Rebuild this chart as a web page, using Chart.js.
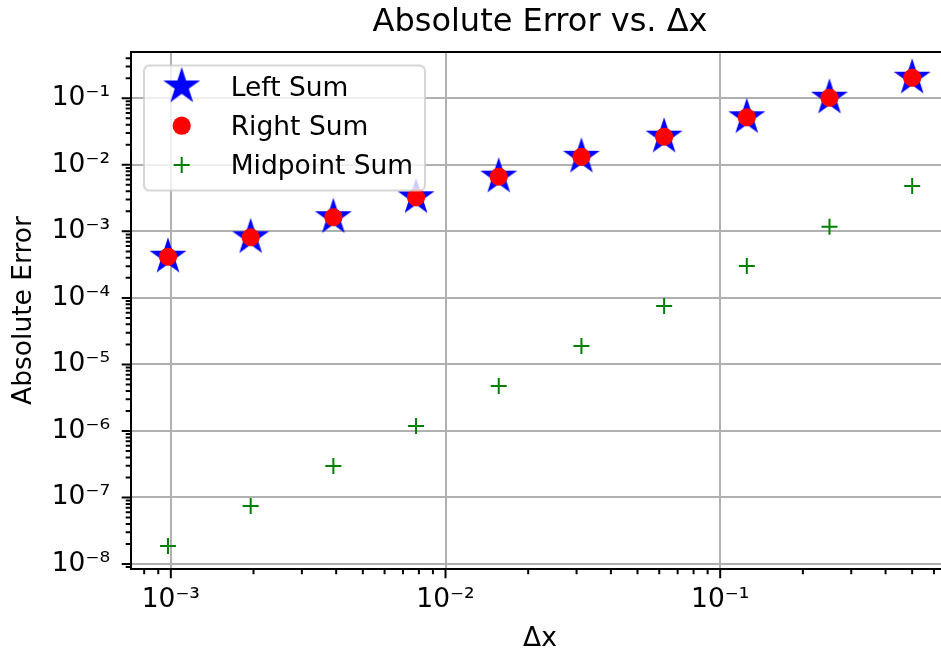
<!DOCTYPE html>
<html>
<head>
<meta charset="utf-8">
<style>
html, body { margin: 0; padding: 0; overflow: hidden; background: #ffffff; width: 941px; height: 653px; }
#wrap { width: 941px; height: 653px; overflow: hidden; position: relative; }
#c { position: absolute; left: 0; top: 0; }
</style>
<script src="https://cdn.jsdelivr.net/npm/chart.js@4.4.1/dist/chart.umd.min.js"></script>
</head>
<body>
<div id="wrap"><canvas id="c" width="950" height="653"></canvas></div>
<script>
// ---- data ----
const deltaX = [0.0009765625, 0.001953125, 0.00390625, 0.0078125, 0.015625, 0.03125, 0.0625, 0.125, 0.25, 0.5];
const leftSumError = [4.16e-4, 8.15e-4, 1.63e-3, 3.25e-3, 6.64e-3, 1.32e-2, 2.65e-2, 5.18e-2, 0.102, 0.204];
const rightSumError = [4.16e-4, 8.15e-4, 1.63e-3, 3.25e-3, 6.64e-3, 1.32e-2, 2.65e-2, 5.18e-2, 0.102, 0.204];
const midpointSumError = [1.87e-8, 7.46e-8, 2.98e-7, 1.19e-6, 4.74e-6, 1.89e-5, 7.55e-5, 3.01e-4, 1.175e-3, 4.81e-3];
const seriesLabels = ['Left Sum', 'Right Sum', 'Midpoint Sum'];
const xTickExponents = [-3, -2, -1];
const xTickLabels = ['10⁻³', '10⁻²', '10⁻¹'];
const yTickExponents = [-8, -7, -6, -5, -4, -3, -2, -1];
const yTickLabels = ['10⁻⁸', '10⁻⁷', '10⁻⁶', '10⁻⁵', '10⁻⁴', '10⁻³', '10⁻²', '10⁻¹'];
const titleText = 'Absolute Error vs. Δx';
const xAxisTitle = 'Δx';
const yAxisTitle = 'Absolute Error';

// ---- styling ----
const FONT = 'DejaVu Sans';
const X_MIN = Math.pow(10, -3.145), X_MAX = Math.pow(10, -0.167);
const Y_MIN = Math.pow(10, -8.075), Y_MAX = Math.pow(10, -0.304);

function makeStar(R, color) {
  const pad = 6;
  const size = Math.ceil(2 * (R + pad) / 2) * 2;
  const c = document.createElement('canvas');
  c.width = size; c.height = size;
  const g = c.getContext('2d');
  const cx = size / 2, cy = size / 2;
  g.beginPath();
  for (let i = 0; i < 10; i++) {
    const r = i % 2 === 0 ? R : R * 0.381966;
    const a = -Math.PI / 2 + i * Math.PI / 5;
    const px = cx + r * Math.cos(a), py = cy + r * Math.sin(a);
    if (i === 0) g.moveTo(px, py); else g.lineTo(px, py);
  }
  g.closePath();
  g.fillStyle = color; g.fill();
  g.lineWidth = 1.5; g.strokeStyle = color; g.lineJoin = 'miter'; g.stroke();
  return c;
}
const starImg = makeStar(17, '#0000ff');

function logTicks(min, max) {
  const out = [];
  for (let e = Math.floor(Math.log10(min)); e <= Math.ceil(Math.log10(max)); e++) {
    for (let k = 1; k <= 9; k++) {
      const v = k * Math.pow(10, e);
      if (v >= min * (1 - 1e-9) && v <= max * (1 + 1e-9)) out.push({ value: v, major: k === 1 });
    }
  }
  return out;
}
function labelFor(exps, labels) {
  return function (value) {
    const l = Math.log10(value);
    const e = Math.round(l);
    if (Math.abs(l - e) < 1e-6) {
      const i = exps.indexOf(e);
      return i >= 0 ? labels[i] : '';
    }
    return '';
  };
}
const gridColor = ctx => (ctx.tick && ctx.tick.major) ? '#b0b0b0' : 'rgba(0,0,0,0)';
function zeroPadding(s) { s.paddingLeft = 0; s.paddingRight = 0; s.paddingTop = 0; s.paddingBottom = 0; }

const frameAndLegend = {
  id: 'frameAndLegend',
  afterDatasetsDraw(chart) {
    const ctx = chart.ctx, a = chart.chartArea;
    ctx.save();
    // spines
    ctx.strokeStyle = '#000'; ctx.lineWidth = 2;
    ctx.strokeRect(a.left, a.top, a.right - a.left, a.bottom - a.top);
    // tick marks
    const xs = chart.scales.x, ys = chart.scales.y;
    ctx.beginPath();
    xs.ticks.forEach(t => {
      const p = xs.getPixelForValue(t.value);
      const len = t.major ? 9.3 : 5.3;
      ctx.moveTo(p, a.bottom); ctx.lineTo(p, a.bottom + len);
    });
    ys.ticks.forEach(t => {
      const p = ys.getPixelForValue(t.value);
      const len = t.major ? 9.3 : 5.3;
      ctx.moveTo(a.left, p); ctx.lineTo(a.left - len, p);
    });
    ctx.stroke();

    // legend box
    const bx = 144, by = 65.5, bw = 281, bh = 125, r = 5.3;
    ctx.beginPath();
    ctx.moveTo(bx + r, by);
    ctx.lineTo(bx + bw - r, by); ctx.arcTo(bx + bw, by, bx + bw, by + r, r);
    ctx.lineTo(bx + bw, by + bh - r); ctx.arcTo(bx + bw, by + bh, bx + bw - r, by + bh, r);
    ctx.lineTo(bx + r, by + bh); ctx.arcTo(bx, by + bh, bx, by + bh - r, r);
    ctx.lineTo(bx, by + r); ctx.arcTo(bx, by, bx + r, by, r);
    ctx.closePath();
    ctx.fillStyle = 'rgba(255,255,255,0.8)'; ctx.fill();
    ctx.strokeStyle = 'rgba(204,204,204,0.8)'; ctx.lineWidth = 2; ctx.stroke();

    const mx = 181.7, tx = 230.7;
    const rowsY = [86.5, 125.7, 165];
    const baseY = [96, 135, 173.5];
    ctx.drawImage(starImg, mx - starImg.width / 2, rowsY[0] - starImg.height / 2);
    ctx.beginPath(); ctx.arc(mx, rowsY[1], 9.1, 0, Math.PI * 2); ctx.fillStyle = '#ff0000'; ctx.fill();
    ctx.beginPath();
    ctx.moveTo(mx - 8, rowsY[2]); ctx.lineTo(mx + 8, rowsY[2]);
    ctx.moveTo(mx, rowsY[2] - 8); ctx.lineTo(mx, rowsY[2] + 8);
    ctx.strokeStyle = '#008000'; ctx.lineWidth = 2; ctx.stroke();
    ctx.fillStyle = '#000'; ctx.font = '26.5px "' + FONT + '"';
    ctx.textAlign = 'left'; ctx.textBaseline = 'alphabetic';
    chart.data.datasets.forEach((ds, i) => ctx.fillText(ds.label, tx, baseY[i]));
    ctx.restore();
  }
};

new Chart(document.getElementById('c'), {
  type: 'scatter',
  data: {
    datasets: [
      { label: seriesLabels[0], data: deltaX.map((x, i) => ({ x: x, y: leftSumError[i] })),
        pointStyle: starImg, pointRadius: 18, backgroundColor: '#0000ff', borderColor: '#0000ff', order: 2 },
      { label: seriesLabels[1], data: deltaX.map((x, i) => ({ x: x, y: rightSumError[i] })),
        pointStyle: 'circle', pointRadius: 8.6, borderWidth: 1, backgroundColor: '#ff0000', borderColor: '#ff0000', order: 1 },
      { label: seriesLabels[2], data: deltaX.map((x, i) => ({ x: x, y: midpointSumError[i] })),
        pointStyle: 'cross', pointRadius: 8, borderWidth: 2, backgroundColor: '#008000', borderColor: '#008000', order: 0 }
    ]
  },
  options: {
    responsive: false,
    devicePixelRatio: 1,
    animation: false,
    events: [],
    layout: { autoPadding: false, padding: { left: 0, right: 1, top: 0, bottom: 0 } },
    plugins: {
      legend: { display: false },
      tooltip: { enabled: false },
      title: {
        display: true, text: titleText, color: '#000', fullSize: false,
        font: { family: FONT, size: 32, weight: 'normal', lineHeight: 1 },
        padding: { top: 6.2, bottom: 13.8 }
      }
    },
    scales: {
      x: {
        type: 'logarithmic', position: 'bottom', min: X_MIN, max: X_MAX, bounds: 'data',
        afterBuildTicks: s => { s.ticks = logTicks(s.min, s.max); },
        afterFit: s => { s.height = 84; zeroPadding(s); },
        grid: { color: gridColor, lineWidth: 2, drawTicks: false },
        border: { display: false },
        ticks: { autoSkip: false, maxRotation: 0, minRotation: 0, padding: 15, color: '#000',
          font: { family: FONT, size: 26.5, lineHeight: 1.2 }, callback: labelFor(xTickExponents, xTickLabels) },
        title: { display: true, text: xAxisTitle, color: '#000',
          font: { family: FONT, size: 26.5, lineHeight: 1 }, padding: { top: 0, bottom: 0.7 } }
      },
      y: {
        type: 'logarithmic', position: 'left', min: Y_MIN, max: Y_MAX, bounds: 'data',
        afterBuildTicks: s => { s.ticks = logTicks(s.min, s.max); },
        afterFit: s => { s.width = 131; zeroPadding(s); },
        grid: { color: gridColor, lineWidth: 2, drawTicks: false },
        border: { display: false },
        ticks: { autoSkip: false, padding: 21, color: '#000',
          font: { family: FONT, size: 26.5, lineHeight: 1.2 }, callback: labelFor(yTickExponents, yTickLabels) },
        title: { display: true, text: yAxisTitle, color: '#000',
          font: { family: FONT, size: 26.5, lineHeight: 1 }, padding: { top: 10.85, bottom: 0 } }
      }
    }
  },
  plugins: [frameAndLegend]
});
</script>
</body>
</html>
